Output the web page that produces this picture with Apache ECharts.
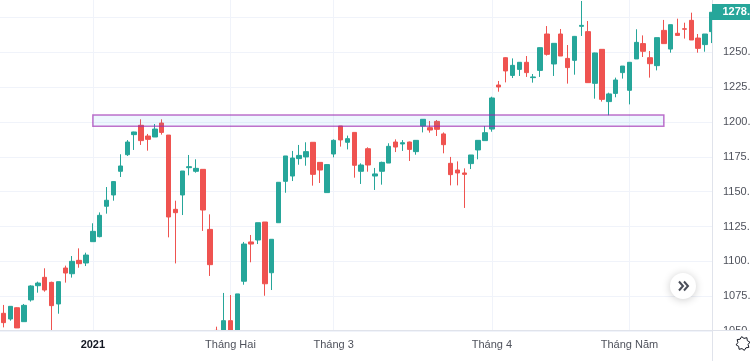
<!DOCTYPE html>
<html><head><meta charset="utf-8">
<style>html,body{margin:0;padding:0;background:#fff}#c{width:750px;height:361px}</style>
<script src="https://cdn.jsdelivr.net/npm/echarts@6/dist/echarts.min.js"></script>
</head><body><div id="c"></div>
<script>
const opens=[1062.7,1058.6,1066.7,1056.7,1072.3,1082.5,1088.5,1084.9,1069.4,1095.2,1091.1,1100.7,1098.8,1114.1,1117.7,1139.5,1147.6,1164.6,1176.5,1190.9,1197.6,1189.9,1189.2,1199.2,1190.6,1137.3,1147.6,1167.2,1164.6,1166.0,1122.9,1050.4,1050.4,1057.4,1050.4,1085.7,1113.9,1115.3,1128.2,1091.8,1127.7,1157.4,1161.2,1173.7,1174.9,1185.4,1171.0,1149.3,1177.0,1197.1,1185.4,1192.5,1164.6,1180.8,1161.2,1164.6,1170.5,1185.6,1184.2,1185.6,1178.7,1197.1,1195.9,1200.4,1191.4,1170.3,1165.5,1163.4,1170.1,1179.9,1186.6,1194.9,1226.5,1246.1,1233.4,1237.7,1242.8,1231.8,1237.0,1263.1,1241.6,1263.1,1245.6,1244.2,1268.6,1264.8,1227.7,1252.1,1214.6,1220.5,1235.4,1222.7,1245.2,1256.2,1246.1,1240.4,1265.7,1252.3,1263.6,1266.9,1272.9,1260.2,1255.5,1264.8];
const closes=[1056.0,1067.7,1052.2,1068.4,1082.3,1084.4,1079.4,1068.2,1085.4,1091.6,1100.0,1098.3,1104.5,1121.5,1133.0,1143.8,1157.2,1168.4,1185.6,1192.8,1186.6,1187.5,1194.9,1192.5,1131.8,1134.9,1164.8,1167.9,1166.7,1136.8,1097.6,1050.4,1057.4,1050.4,1076.6,1112.4,1112.4,1127.7,1083.9,1115.8,1156.7,1175.6,1174.1,1176.0,1178.7,1162.4,1165.5,1169.4,1186.8,1187.1,1188.0,1168.9,1169.1,1169.1,1162.7,1171.0,1182.5,1182.0,1185.1,1180.3,1186.8,1201.9,1194.2,1194.7,1183.7,1162.2,1163.4,1162.4,1176.3,1186.8,1192.3,1217.2,1225.1,1236.6,1240.6,1242.8,1235.4,1232.3,1253.3,1248.5,1256.4,1247.3,1239.0,1261.4,1269.3,1228.2,1249.5,1216.2,1220.1,1230.1,1240.1,1242.8,1257.1,1250.7,1241.8,1260.5,1256.2,1269.8,1262.1,1266.5,1258.8,1252.8,1263.1,1278.7];
const lows=[1052.6,1057.4,1052.2,1056.7,1071.1,1077.5,1078.2,1050.4,1062.4,1084.7,1088.3,1095.4,1096.6,1114.1,1117.2,1134.2,1143.5,1160.5,1175.6,1179.9,1183.5,1179.4,1189.2,1190.9,1117.2,1098.5,1133.2,1161.7,1163.6,1121.8,1089.5,1050.4,1050.4,1050.4,1050.4,1083.2,1099.3,1112.4,1075.3,1079.4,1127.7,1149.2,1157.6,1169.3,1168.6,1154.3,1156.2,1149.3,1174.6,1182.3,1180.3,1160.0,1155.5,1164.3,1151.2,1155.0,1170.5,1178.4,1179.2,1172.0,1176.5,1192.5,1192.3,1189.9,1177.5,1154.5,1154.5,1138.3,1166.2,1173.2,1186.6,1193.0,1221.7,1228.4,1231.5,1233.0,1232.3,1228.2,1232.3,1247.6,1233.0,1247.3,1227.5,1233.9,1261.7,1228.2,1216.7,1214.6,1204.8,1217.7,1231.1,1212.6,1245.2,1246.6,1231.8,1237.0,1256.2,1249.7,1261.9,1259.8,1258.8,1249.7,1250.4,1256.6];
const highs=[1068.7,1067.9,1067.0,1069.4,1082.8,1085.4,1095.0,1085.4,1085.4,1096.9,1103.8,1109.3,1106.2,1127.3,1135.1,1153.3,1157.6,1176.8,1187.0,1193.0,1201.9,1191.4,1198.5,1201.9,1190.6,1143.5,1164.8,1176.3,1173.2,1166.0,1133.7,1053.1,1077.3,1075.8,1076.6,1113.9,1118.9,1127.7,1128.2,1115.8,1156.9,1175.6,1179.2,1183.5,1185.4,1185.4,1171.0,1169.6,1187.5,1197.1,1190.2,1192.5,1170.3,1181.8,1167.0,1171.5,1184.7,1187.5,1187.0,1185.9,1187.0,1202.1,1200.7,1201.4,1192.5,1174.9,1171.7,1166.7,1176.3,1187.0,1197.1,1218.1,1229.4,1246.4,1245.6,1243.0,1247.3,1234.4,1253.5,1268.8,1256.6,1266.7,1255.2,1261.7,1286.8,1272.4,1249.7,1252.1,1221.0,1231.8,1240.1,1243.0,1266.5,1262.1,1250.9,1260.5,1273.2,1269.8,1274.1,1271.2,1278.4,1263.1,1263.1,1278.9];
const tickIndexes=[13,33,48,71,91];
const tickLabels=['2021','Tháng Hai','Tháng 3','Tháng 4','Tháng Năm'];
const bandFrom=[13,1205], bandTo=[96,1197];

const FONT='"Liberation Sans", sans-serif';
const chart=echarts.init(document.getElementById('c'),null,{renderer:'canvas'});
const candles=opens.map((o,i)=>[i,o,closes[i],lows[i],highs[i]]);
const lastClose=closes[closes.length-1];
const line='#e0e3eb', grid='#f0f3fa', tickText='#4f525c';
const yScale={type:'value',position:'right',min:1050,max:1287.5,interval:25};
chart.setOption({
  animation:false,
  grid:{left:0,right:38,top:0,bottom:30,outerBoundsMode:'none',containLabel:false},
  xAxis:{type:'value',min:-0.5,max:103,
    axisLine:{show:false},
    axisTick:{show:false,customValues:tickIndexes},
    splitLine:{show:true,lineStyle:{color:grid,width:1}},
    axisLabel:{customValues:tickIndexes,margin:8,fontFamily:FONT,fontSize:11,color:tickText,
      formatter:v=>{const s=tickLabels[tickIndexes.indexOf(v)];return v===13?'{b|'+s+'}':s;},
      rich:{b:{fontFamily:FONT,fontSize:11,fontWeight:'bold',color:'#131722'}}}},
  yAxis:[
    Object.assign({},yScale,{z:0,axisLine:{show:false},axisTick:{show:false},axisLabel:{show:false},
      splitLine:{show:true,showMaxLine:false,lineStyle:{color:grid,width:1}}}),
    Object.assign({},yScale,{z:21,axisLine:{show:false},axisTick:{show:false},splitLine:{show:false},
      axisLabel:{showMaxLabel:false,margin:11,fontFamily:FONT,fontSize:11,color:tickText,
        hideOverlap:false,formatter:v=>v.toFixed(2)}})
  ],
  series:[{type:'candlestick',yAxisIndex:0,data:candles,encode:{x:0,y:[1,2,3,4]},barWidth:5,clip:true,
    itemStyle:{color:'#26a69a',color0:'#ef5350',borderColor:'#26a69a',borderColor0:'#ef5350',borderWidth:1},
    markArea:{silent:true,z:5,
      itemStyle:{color:'rgba(33,150,243,0.08)',borderColor:'rgba(156,39,176,0.65)',borderWidth:1.5},
      data:[[{coord:bandFrom},{coord:bandTo}]]}}]
});
const py=Math.round(chart.convertToPixel({yAxisIndex:0},lastClose));
const gear=[];
for(let k=0;k<16;k++){const a=k*Math.PI/8+Math.PI/16;const r=(k%2)?7:5.2;gear.push([743+r*Math.cos(a),343.5+r*Math.sin(a)]);}
chart.setOption({graphic:[
  {type:'rect',z:20,shape:{x:712.5,y:0,width:38,height:331},style:{fill:'#fff'}},
  {type:'rect',z:22,shape:{x:712.5,y:331,width:38,height:30},style:{fill:'#fff'}},
  {type:'line',z:22,shape:{x1:0,y1:330.5,x2:750,y2:330.5},style:{stroke:line,lineWidth:1}},
  {type:'line',z:22,shape:{x1:712.5,y1:0,x2:712.5,y2:361},style:{stroke:line,lineWidth:1}},
  {type:'rect',z:23,shape:{x:712,y:py-8,width:38,height:16},style:{fill:'#26a69a'}},
  {type:'text',z:24,x:722.5,y:py,style:{text:lastClose.toFixed(2),fill:'#fff',font:'bold 11px '+FONT,textVerticalAlign:'middle'}},
  {type:'circle',z:25,shape:{cx:683,cy:286,r:13},style:{fill:'#fff',shadowBlur:8,shadowColor:'rgba(0,0,0,0.2)',shadowOffsetY:1}},
  {type:'polyline',z:26,shape:{points:[[679,281.5],[683,286],[679,290.5]]},style:{stroke:'#4a4e59',lineWidth:2,fill:null}},
  {type:'polyline',z:26,shape:{points:[[684,281.5],[688,286],[684,290.5]]},style:{stroke:'#4a4e59',lineWidth:2,fill:null}},
  {type:'polygon',z:26,shape:{points:gear},style:{fill:'#fff',stroke:'#131722',lineWidth:1}}
]});
</script></body></html>
